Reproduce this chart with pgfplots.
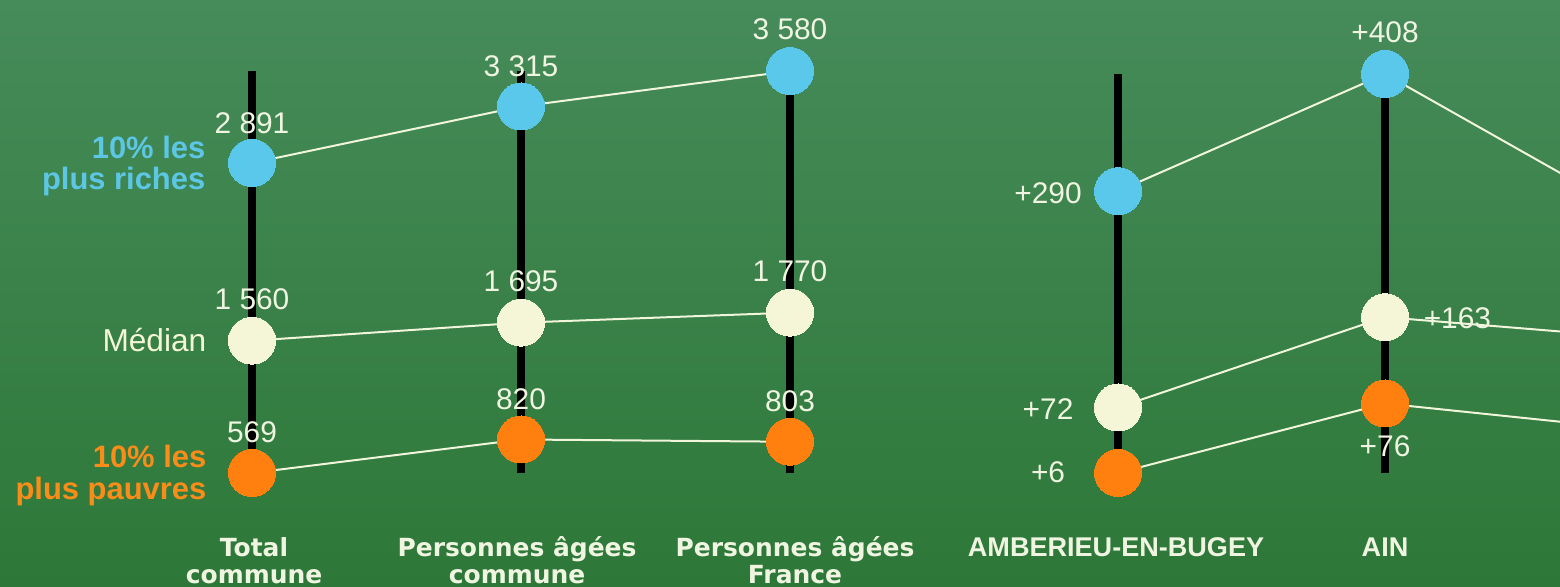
\documentclass[border=0pt]{standalone}
\usepackage{pgfplots}
\pgfplotsset{compat=1.18}
\usepackage{fontspec}
\setmainfont{Liberation Sans}
\newfontfamily\dejavu{DejaVu Sans}
\definecolor{bgtop}{RGB}{70,139,90}
\definecolor{bgbot}{RGB}{45,120,56}
\definecolor{cblue}{RGB}{90,200,235}
\definecolor{ccream}{RGB}{245,246,215}
\definecolor{corange}{RGB}{255,128,14}
\definecolor{lblue}{RGB}{92,198,228}
\definecolor{lorange}{RGB}{250,140,25}
\definecolor{vtext}{RGB}{240,245,225}
\definecolor{lline}{RGB}{240,245,220}
\tikzset{val/.style={text=vtext, font=\fontsize{8.5pt}{10pt}\selectfont, inner sep=0pt}}
\begin{document}
\begin{tikzpicture}
\useasboundingbox (0,0) rectangle (156mm,58.7mm);
\clip (0,0) rectangle (156mm,58.7mm);
\shade[top color=bgtop,bottom color=bgbot] (0,0) rectangle (156mm,58.7mm);
\pgfplotsset{
  panel/.style={scale only axis, width=156mm, height=58.7mm, at={(0,0)}, anchor=south west, hide axis, clip=false},
  vbar/.style={black, line width=0.8mm, forget plot},
  dots/.style={only marks, mark=*, mark size=2.35mm, color=#1, mark options={fill=#1, draw=#1, line width=0pt}},
  conn/.style={lline, line width=0.2mm, no marks},
}
% Left panel: absolute values
\begin{axis}[panel, xmin=-0.93680, xmax=4.86245, ymin=-284.9, ymax=4112.1]
\addplot[vbar] coordinates {(0,569) (0,3580)};
\addplot[vbar] coordinates {(1,569) (1,3580)};
\addplot[vbar] coordinates {(2,569) (2,3580)};
\addplot[dots=cblue] coordinates {(0,2891) (1,3315) (2,3580)};
\addplot[dots=ccream] coordinates {(0,1560) (1,1695) (2,1770)};
\addplot[dots=corange] coordinates {(0,569) (1,820) (2,803)};
\addplot[conn] coordinates {(0,2891) (1,3315) (2,3580)};
\addplot[conn] coordinates {(0,1560) (1,1695) (2,1770)};
\addplot[conn] coordinates {(0,569) (1,820) (2,803)};
\node[val, anchor=base, yshift=3mm] at (axis cs:0,2891) {2 891};
\node[val, anchor=base, yshift=3mm] at (axis cs:1,3315) {3 315};
\node[val, anchor=base, yshift=3.2mm] at (axis cs:2,3580) {3 580};
\node[val, anchor=base, yshift=3.1mm] at (axis cs:0,1560) {1 560};
\node[val, anchor=base, yshift=3.1mm] at (axis cs:1,1695) {1 695};
\node[val, anchor=base, yshift=3.1mm] at (axis cs:2,1770) {1 770};
\node[val, anchor=base, yshift=3mm] at (axis cs:0,569) {569};
\node[val, anchor=base, yshift=3mm] at (axis cs:1,820) {820};
\node[val, anchor=base, yshift=3mm] at (axis cs:2,803) {803};
\end{axis}
% Right panel: evolutions
\begin{axis}[panel, xmin=-4.18727, xmax=1.65543, ymin=-108.9, ymax=482.6]
\addplot[vbar] coordinates {(0,6) (0,408)};
\addplot[vbar] coordinates {(1,6) (1,408)};
\addplot[dots=cblue] coordinates {(0,290) (1,408) (2,256)};
\addplot[dots=ccream] coordinates {(0,72) (1,163) (2,141)};
\addplot[dots=corange] coordinates {(0,6) (1,76) (2,48)};
\addplot[conn] coordinates {(0,290) (1,408) (2,256)};
\addplot[conn] coordinates {(0,72) (1,163) (2,141)};
\addplot[conn] coordinates {(0,6) (1,76) (2,48)};
\node[val, anchor=base, xshift=-7mm, yshift=-1.2mm] at (axis cs:0,290) {+290};
\node[val, anchor=base, xshift=-7mm, yshift=-1.2mm] at (axis cs:0,72) {+72};
\node[val, anchor=base, xshift=-7mm, yshift=-1.0mm] at (axis cs:0,6) {+6};
\node[val, anchor=base, yshift=3.2mm] at (axis cs:1,408) {+408};
\node[val, anchor=base west, xshift=3.8mm, yshift=-1.1mm] at (axis cs:1,163) {+163};
\node[val, anchor=base, yshift=-5.3mm] at (axis cs:1,76) {+76};
\end{axis}
% Text labels (pixel coordinates, y downwards)
\begin{scope}[shift={(0,58.7mm)}, x=0.1mm, y=-0.1mm]
\tikzset{side/.style={anchor=base east, inner sep=0pt, font=\bfseries\fontsize{8.8pt}{8.8pt}\selectfont},
  cat/.style={anchor=base, inner sep=0pt, text=vtext, font=\dejavu\bfseries\fontsize{7.1pt}{7.7pt}\selectfont},
  catr/.style={anchor=base, inner sep=0pt, text=vtext, font=\bfseries\fontsize{7.7pt}{8pt}\selectfont}}
\node[side, text=lblue] at (206,159) {10\% les};
\node[side, text=lblue] at (206,190) {plus riches};
\node[anchor=base east, inner sep=0pt, text=ccream, font=\fontsize{9pt}{9pt}\selectfont] at (207,352) {Médian};
\node[side, text=lorange] at (207,468) {10\% les};
\node[side, text=lorange] at (207,500) {plus pauvres};
\node[cat] at (254,557) {Total};
\node[cat] at (254,584) {commune};
\node[cat] at (517,557) {Personnes âgées};
\node[cat] at (517,584) {commune};
\node[cat] at (795,557) {Personnes âgées};
\node[cat] at (795,584) {France};
\node[catr] at (1116,557) {AMBERIEU-EN-BUGEY};
\node[catr] at (1385,557) {AIN};
\end{scope}
\end{tikzpicture}
\end{document}
